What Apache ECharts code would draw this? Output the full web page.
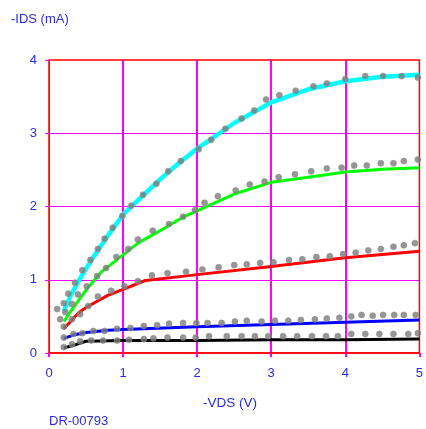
<!DOCTYPE html>
<html>
<head>
<meta charset="utf-8">
<script src="https://cdn.jsdelivr.net/npm/echarts@6/dist/echarts.min.js"></script>
<style>
html,body{margin:0;padding:0;background:#fff;}
#c{width:426px;height:429px;}
</style>
</head>
<body>
<div id="c"></div>
<script>
// Axis ticks
var xTicks = [0, 1, 2, 3, 4, 5];
var yTicks = [0, 1, 2, 3, 4];

// Model curves: [-VDS (V), -IDS (mA)]
var cyanLine = [[0.2,0.57],[0.3,0.8],[0.41,1.0],[0.5,1.15],[0.6,1.31],[0.8,1.61],[1.0,1.89],[1.11,2.0],[1.3,2.18],[1.5,2.37],[1.75,2.59],[2.0,2.79],[2.5,3.14],[3.0,3.42],[3.5,3.6],[4.0,3.71],[4.5,3.77],[5.0,3.80]];
var greenLine = [[0.2,0.43],[0.3,0.58],[0.4,0.72],[0.5,0.86],[0.7,1.1],[1.0,1.34],[1.2,1.50],[1.5,1.67],[1.8,1.85],[2.0,1.94],[2.5,2.17],[3.0,2.33],[3.5,2.40],[4.0,2.47],[4.5,2.51],[5.0,2.53]];
var redLine = [[0.2,0.33],[0.31,0.45],[0.4,0.55],[0.5,0.62],[0.62,0.69],[0.8,0.79],[1.0,0.87],[1.3,0.99],[2.0,1.07],[3.0,1.18],[4.0,1.30],[5.0,1.39]];
var blueLine = [[0.2,0.20],[0.35,0.25],[0.5,0.28],[0.8,0.31],[1.0,0.32],[2.0,0.36],[3.0,0.39],[4.0,0.42],[5.0,0.45]];
var blackLine = [[0.2,0.07],[0.35,0.11],[0.5,0.16],[1.0,0.17],[2.0,0.17],[3.0,0.18],[4.0,0.18],[5.0,0.19]];

// Measured points
var cyanDots = [[0.11,0.6],[0.2,0.68],[0.26,0.81],[0.35,0.96],[0.45,1.13],[0.56,1.27],[0.66,1.42],[0.75,1.56],[0.86,1.71],[0.99,1.87],[1.11,2.01],[1.27,2.16],[1.45,2.31],[1.61,2.48],[1.78,2.62],[2.02,2.78],[2.19,2.91],[2.38,3.06],[2.60,3.20],[2.77,3.31],[2.93,3.46],[3.11,3.52],[3.33,3.58],[3.57,3.64],[3.75,3.68],[4.0,3.74],[4.27,3.78],[4.51,3.78],[4.76,3.78],[4.98,3.76]];
var greenDots = [[0.15,0.46],[0.22,0.56],[0.31,0.67],[0.39,0.80],[0.51,0.91],[0.65,1.05],[0.77,1.16],[0.91,1.31],[1.07,1.42],[1.2,1.55],[1.40,1.67],[1.62,1.76],[1.81,1.86],[1.97,1.95],[2.10,2.05],[2.28,2.14],[2.52,2.22],[2.71,2.30],[2.91,2.34],[3.10,2.40],[3.32,2.44],[3.54,2.48],[3.75,2.52],[3.95,2.53],[4.12,2.56],[4.29,2.56],[4.48,2.59],[4.65,2.59],[4.79,2.62],[4.98,2.64]];
var redDots = [[0.2,0.36],[0.31,0.46],[0.42,0.53],[0.53,0.64],[0.66,0.77],[0.84,0.85],[1.02,0.91],[1.2,0.98],[1.39,1.06],[1.60,1.09],[1.85,1.11],[2.07,1.14],[2.29,1.17],[2.50,1.20],[2.67,1.21],[2.85,1.23],[3.03,1.24],[3.24,1.27],[3.42,1.28],[3.61,1.31],[3.79,1.32],[3.97,1.35],[4.14,1.37],[4.31,1.40],[4.48,1.42],[4.65,1.45],[4.79,1.47],[4.94,1.50]];
var blueDots = [[0.2,0.21],[0.33,0.26],[0.45,0.27],[0.60,0.30],[0.75,0.30],[0.92,0.33],[1.10,0.34],[1.28,0.37],[1.46,0.38],[1.62,0.40],[1.81,0.41],[1.99,0.41],[2.14,0.41],[2.33,0.41],[2.51,0.43],[2.67,0.44],[2.87,0.43],[3.05,0.44],[3.23,0.44],[3.40,0.45],[3.59,0.46],[3.75,0.47],[3.92,0.48],[4.08,0.50],[4.22,0.52],[4.37,0.51],[4.51,0.52],[4.66,0.52],[4.79,0.52],[4.95,0.52]];
var blackDots = [[0.2,0.08],[0.31,0.12],[0.42,0.16],[0.57,0.17],[0.73,0.17],[0.92,0.17],[1.08,0.18],[1.28,0.19],[1.41,0.20],[1.6,0.21],[1.81,0.21],[1.98,0.21],[2.16,0.23],[2.40,0.23],[2.6,0.23],[2.78,0.23],[2.96,0.23],[3.16,0.23],[3.35,0.23],[3.55,0.23],[3.74,0.23],[3.9,0.23],[4.08,0.26],[4.27,0.26],[4.46,0.26],[4.65,0.26],[4.85,0.26],[4.98,0.27]];

var textBlue = '#2a2aee';
var gridMagenta = '#ff00ff';
var font = 'Liberation Sans, Arial, sans-serif';

function lineSeries(data, color, width) {
  return {type: 'line', data: data, showSymbol: false, symbol: 'none', silent: true,
    lineStyle: {color: color, width: width}, z: 3, animation: false};
}
function dotSeries(data) {
  return {type: 'scatter', data: data, symbol: 'circle', symbolSize: 6, silent: true,
    itemStyle: {color: '#7c7c7c', borderColor: '#8e8e8e', borderWidth: 0.8}, z: 5, animation: false};
}

var chart = echarts.init(document.getElementById('c'), null, {renderer: 'canvas'});
chart.setOption({
  animation: false,
  backgroundColor: '#ffffff',
  grid: {left: 49, right: 5, top: 60, bottom: 76, show: true, borderColor: '#ff0000', borderWidth: 1.5, backgroundColor: 'transparent'},
  xAxis: {
    type: 'value', min: xTicks[0], max: xTicks[xTicks.length - 1], interval: 1,
    axisLine: {show: true, onZero: false, lineStyle: {color: '#ff0000', width: 1.5}},
    axisTick: {show: true, length: 4, lineStyle: {color: gridMagenta, width: 2}},
    axisLabel: {color: textBlue, fontSize: 13, fontFamily: font, margin: 14},
    splitLine: {show: true, showMinLine: false, showMaxLine: false, lineStyle: {color: gridMagenta, width: 2, type: 'solid'}}
  },
  yAxis: {
    type: 'value', min: yTicks[0], max: yTicks[yTicks.length - 1], interval: 1,
    axisLine: {show: true, onZero: false, lineStyle: {color: '#ff0000', width: 1}},
    axisTick: {show: true, length: 4, lineStyle: {color: gridMagenta, width: 1}},
    axisLabel: {color: textBlue, fontSize: 13, fontFamily: font, margin: 12},
    splitLine: {show: true, showMinLine: false, showMaxLine: false, lineStyle: {color: gridMagenta, width: 1, type: 'solid'}}
  },
  graphic: [
    {type: 'text', left: 11, top: 13, style: {text: '-IDS (mA)', fill: textBlue, font: '13px ' + font}},
    {type: 'text', left: 203, top: 396, style: {text: '-VDS (V)', fill: textBlue, font: '13.5px ' + font}},
    {type: 'text', left: 49, top: 415, style: {text: 'DR-00793', fill: textBlue, font: '13px ' + font}}
  ],
  series: [
    lineSeries(blackLine, '#000000', 3),
    lineSeries(blueLine, '#0000ff', 3),
    lineSeries(redLine, '#ff0000', 3),
    lineSeries(greenLine, '#00ff00', 3),
    lineSeries(cyanLine, '#00ffff', 4.5),
    dotSeries(blackDots),
    dotSeries(blueDots),
    dotSeries(redDots),
    dotSeries(greenDots),
    dotSeries(cyanDots)
  ]
});
</script>
</body>
</html>
